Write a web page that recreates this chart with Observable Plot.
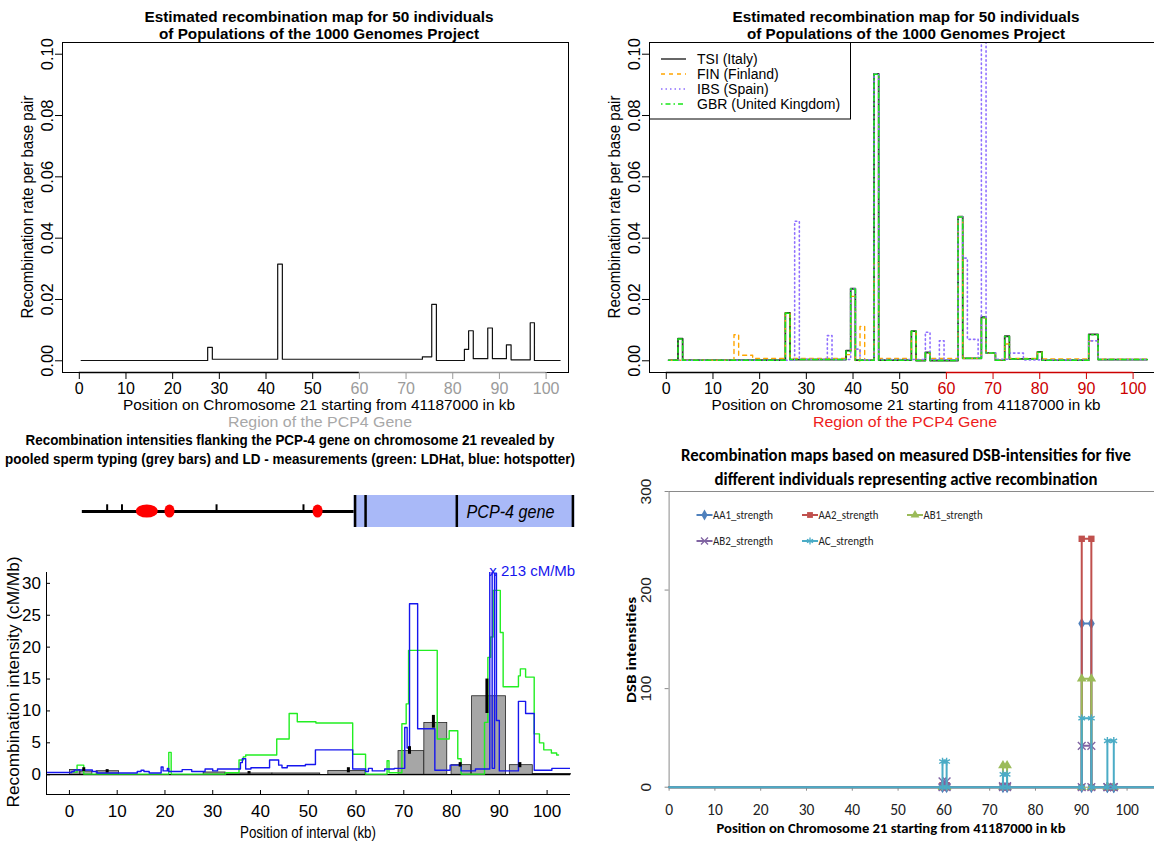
<!DOCTYPE html>
<html>
<head>
<meta charset="utf-8">
<script src="https://cdn.jsdelivr.net/npm/d3@7"></script>
<script src="https://cdn.jsdelivr.net/npm/@observablehq/plot@0.6"></script>
<style>
  html, body { margin: 0; padding: 0; background: #fff; }
  #page { position: relative; width: 1154px; height: 844px; overflow: hidden; background: #fff; }
  #page > svg { position: absolute; overflow: visible; }
</style>
</head>
<body>
<div id="page"></div>
<script>
// ======================= DATA =======================
// shared ticks
const kbTicks = [0, 10, 20, 30, 40, 50, 60, 70, 80, 90, 100];
const rateTicks = [0, 0.02, 0.04, 0.06, 0.08, 0.10];
const intensityTicks = [0, 5, 10, 15, 20, 25, 30];
const dsbTicks = [0, 100, 200, 300];

// Panel A (top left): estimated recombination map (step edges in kb, rate per bp)
const mapEdges = [0.4, 27.5, 28.5, 42.5, 43.5, 73.5, 75.5, 76.5, 82.5, 83.4, 84.4, 87.5, 88.5, 91.5, 92.5, 96.6, 97.5, 103];
const mapRates = [0.0001, 0.0044, 0.0005, 0.0315, 0.0005, 0.0013, 0.0184, 0.0001, 0.0037, 0.0098, 0.0007, 0.0107, 0.0007, 0.0052, 0.0003, 0.0124, 0.0001];

// Panel B (top right): four populations
const popNames = ["TSI (Italy)", "FIN (Finland)", "IBS (Spain)", "GBR (United Kingdom)"];
const tsiEdges = [0.5, 2.5, 3.5, 25.5, 26.5, 38.5, 39.5, 40.5, 44.5, 45.5, 52.5, 53.5, 55.5, 56.5, 62.5, 63.5, 67.5, 68.5, 70.5, 72.5, 73.5, 79.5, 80.5, 90.5, 92.5, 103];
const tsiRates = [0.0002, 0.0072, 0.0002, 0.0156, 0.0004, 0.0033, 0.0235, 0.0002, 0.0936, 0.0002, 0.0097, 0.0001, 0.0027, 0.0001, 0.047, 0.0008, 0.0142, 0.0026, 0.0002, 0.0080, 0.0006, 0.0029, 0.0002, 0.0086, 0.0004];
const finEdges = [0.5, 14.5, 15.5, 18.5, 25.5, 26.5, 38.5, 39.5, 40.5, 41.5, 42.5, 44.5, 45.5, 52.5, 53.5, 55.5, 56.5, 62.5, 63.5, 67.5, 68.5, 70.5, 72.5, 73.5, 79.5, 80.5, 90.5, 92.5, 103];
const finRates = [0.0002, 0.0085, 0.0018, 0.0008, 0.0155, 0.0008, 0.0020, 0.0210, 0.0000, 0.0112, 0.0003, 0.032, 0.0008, 0.0095, 0.0003, 0.0025, 0.0008, 0.047, 0.0008, 0.0140, 0.0025, 0.0003, 0.0055, 0.0008, 0.0028, 0.0006, 0.0065, 0.0005];
const ibsEdges = [0.5, 27.5, 28.5, 34.5, 35.5, 39.5, 40.5, 41.5, 44.5, 45.5, 55.5, 56.5, 58.5, 59.5, 62.5, 63.5, 64.5, 66.8, 67.5, 68.5, 70.5, 73.5, 76.5, 90.5, 92.5, 103];
const ibsRates = [0.0002, 0.0455, 0.0005, 0.0082, 0.0004, 0.0235, 0.0038, 0.0003, 0.0936, 0.0004, 0.0093, 0.0004, 0.0065, 0.0003, 0.047, 0.0335, 0.0070, 0.0010, 0.115, 0.0026, 0.0005, 0.0025, 0.0003, 0.0065, 0.0004];
const gbrEdges = [0.5, 2.5, 3.5, 25.5, 26.5, 38.5, 39.5, 40.5, 44.5, 45.5, 52.5, 53.5, 55.5, 56.5, 62.5, 63.5, 67.5, 68.5, 70.5, 72.5, 73.5, 79.5, 80.5, 90.5, 92.5, 103];
const gbrRates = [0.0002, 0.0071, 0.0002, 0.0155, 0.0004, 0.0032, 0.0234, 0.0002, 0.0935, 0.0002, 0.0096, 0.0001, 0.0026, 0.0001, 0.0469, 0.0008, 0.0141, 0.0025, 0.0002, 0.0079, 0.0006, 0.0028, 0.0002, 0.0085, 0.0004];

// Panel C (bottom left): gene diagram (kb)
const flankStart = 2.7, geneStart = 59.6, geneEnd = 105.8;
const geneLines = [59.8, 62.0, 81.1, 105.4];
const markerTicks = [7.9, 11.0, 30.8, 49.0];
const hotspotStart = [14.0, 20.0, 51.0];
const hotspotEnd = [18.6, 22.1, 53.1];
// sperm typing bars (kb, cM/Mb)
const barStart = [0.1, 2.3, 5.7, 28.1, 32.7, 42.5, 54.2, 68.9, 74.3, 80.0, 84.3, 92.2, 97.0];
const barEnd   = [2.3, 4.8, 10.4, 32.7, 42.5, 52.5, 62.0, 74.3, 79.1, 84.1, 91.4, 97.0, 105.0];
const barValue = [0.75, 0.5, 0.55, 0.35, 0.2, 0.2, 0.6, 3.7, 8.1, 1.5, 12.3, 1.5, 0.1];
const errPos = [3.0, 7.9, 37.6, 58.4, 71.2, 76.2, 81.8, 87.4, 94.3];
const errLow = [0.5, 0.3, 0.1, 0.3, 3.2, 7.3, 1.2, 9.6, 1.1];
const errHigh = [1.1, 0.8, 0.5, 1.1, 4.4, 9.3, 1.9, 15.0, 1.9];
// LDHat (green)
const ldhatEdges = [0.8, 1.6, 3.0, 20.8, 21.3, 32.7, 35.5, 36.4, 36.9, 43.4, 46.0, 47.7, 51.6, 59.3, 62.0, 66.5, 66.9, 69.6, 70.5, 71.0, 77.0, 79.5, 81.3, 82.0, 86.9, 87.6, 88.2, 88.7, 90.2, 90.8, 94.0, 94.4, 95.5, 97.3, 98.4, 99.3, 100.9, 102.0, 102.4];
const ldhatRates = [0.4, 1.5, 0.1, 3.5, 0.1, 0.3, 2.3, 2.8, 3.1, 5.6, 9.6, 8.3, 8.1, 3.2, 0.1, 2.2, 0.3, 8.0, 11.1, 19.5, 5.6, 6.9, 2.5, 0.1, 8.2, 18.4, 21.6, 28.9, 22.3, 13.8, 15.5, 16.6, 15.3, 6.4, 5.0, 3.9, 3.4, 3.1];
// hotspotter (blue)
const hotEdges = [-4.8, 0.5, 1.0, 4.8, 5.8, 14.2, 15.0, 15.6, 16.7, 19.2, 19.6, 20.5, 20.8, 23.6, 25.6, 28.4, 30.0, 31.0, 35.8, 36.2, 36.9, 38.0, 41.9, 43.8, 44.5, 45.6, 49.4, 51.5, 59.3, 62.0, 62.6, 63.4, 66.0, 68.0, 70.2, 70.7, 71.2, 72.9, 76.5, 79.7, 82.0, 85.0, 88.0, 88.5, 89.0, 89.4, 90.0, 94.0, 95.5, 97.3, 101.0, 105.0];
const hotRates = [0.36, 0.5, 0.74, 0.5, 0.27, 0.5, 0.7, 0.5, 0.27, 1.2, 0.6, 1.0, 0.5, 0.8, 0.5, 0.9, 0.6, 0.9, 1.9, 2.5, 0.9, 1.1, 2.3, 1.5, 1.1, 1.4, 1.6, 3.9, 0.9, 0.5, 1.0, 0.6, 0.9, 1.0, 7.4, 4.2, 26.8, 7.2, 0.7, 1.5, 0.6, 0.9, 213, 1.0, 31.6, 8.5, 0.6, 11.5, 9.6, 0.7, 1.0];

// Panel D (bottom right): DSB intensities
const dsbNames = ["AA1_strength", "AA2_strength", "AB1_strength", "AB2_strength", "AC_strength"];
const dsbPos = [0, 59.7, 59.7, 60.6, 60.6, 72.9, 72.9, 73.8, 73.8, 90.1, 90.1, 92.2, 92.2, 95.7, 95.7, 97.1, 97.1, 106.5];
const aa1 = [0, 0, 2, 2, 0, 0, 1, 1, 0, 0, 166, 166, 0, 0, 0, 0, 0, 0];
const aa2 = [0, 0, 2, 2, 0, 0, 1, 1, 0, 0, 252, 252, 0, 0, 0, 0, 0, 0];
const ab1 = [0, 0, 1, 1, 0, 0, 22, 22, 0, 0, 110, 110, 0, 0, 0, 0, 0, 0];
const ab2 = [0, 0, 6, 6, 0, 0, 1, 1, 0, 0, 42, 42, 0, 0, 0, 0, 0, 0];
const ac  = [0, 0, 26, 26, 0, 0, 13, 13, 0, 0, 70, 70, 0, 0, 47, 47, 0, 0];

// ======================= HELPERS =======================
const RFONT = "'Liberation Sans Narrow', 'Arial Narrow', 'Liberation Sans', Arial, sans-serif";
const RFONT_W = "'Liberation Sans', Arial, Helvetica, sans-serif";
const NARROW = "'Liberation Sans Narrow', 'Arial Narrow', 'Liberation Sans', sans-serif";
const CAL = "Carlito, Calibri, Lato, sans-serif";
const page = document.getElementById("page");
function place(svg, left, top) { svg.style.left = left + "px"; svg.style.top = top + "px"; page.appendChild(svg); }
function steps(edges, vals) {
  const pts = vals.map((v, i) => ({x: edges[i], y: v}));
  pts.push({x: edges[edges.length - 1], y: vals[vals.length - 1]});
  return pts;
}

// ======================= PANELS A & B (R style) =======================
function rPanel(o) {
  const {width, height, mL, mR, mT, mB, xDom, yDom, marks, accentLine, accentText} = o;
  const kY = (height - mT - mB) / (yDom[1] - yDom[0]);
  const kX = (width - mL - mR) / (xDom[1] - xDom[0]);
  const yb = yDom[0], xl = xDom[0], tick = 7;
  const lo = kbTicks.filter(t => t < 60), hi = kbTicks.filter(t => t >= 60);
  return Plot.plot({
    width, height, marginLeft: mL, marginRight: mR, marginTop: mT, marginBottom: mB,
    x: {domain: xDom, axis: null}, y: {domain: yDom, axis: null},
    style: {fontFamily: RFONT, background: "transparent", overflow: "visible"},
    marks: [
      ...marks,
      Plot.frame({stroke: "#000", strokeWidth: 1}),
      Plot.ruleY([yb], {x1: 0, x2: 60, stroke: "#000", strokeWidth: 1.6}),
      Plot.ruleY([yb], {x1: 60, x2: 100, stroke: accentLine, strokeWidth: 1.6}),
      Plot.ruleX(lo, {x: d => d, y1: yb, y2: yb - tick / kY, stroke: "#000"}),
      Plot.ruleX(hi, {x: d => d, y1: yb, y2: yb - tick / kY, stroke: accentLine}),
      Plot.text(lo, {x: d => d, y: yb, dy: 16, text: d => String(d), fontSize: 16, fill: "#000"}),
      Plot.text(hi, {x: d => d, y: yb, dy: 16, text: d => String(d), fontSize: 16, fill: accentText}),
      Plot.ruleY(rateTicks, {y: d => d, x1: xl, x2: xl - tick / kX, stroke: "#000"}),
      Plot.text(rateTicks, {x: xl, y: d => d, dx: -15, rotate: -90, text: d => d.toFixed(2), fontSize: 16.5, fill: "#000", fontFamily: RFONT_W})
    ]
  });
}
const stepOpts = {x: "x", y: "y", curve: "step-after"};
place(rPanel({
  width: 580, height: 430, mL: 62, mR: 12, mT: 42, mB: 58,
  xDom: [-3.6, 104.8], yDom: [-0.00382, 0.10382],
  accentLine: "#9b9b9b", accentText: "#9b9b9b",
  marks: [Plot.line(steps(mapEdges, mapRates), {...stepOpts, stroke: "#111", strokeWidth: 1.2})]
}), 0, 0);

const popStyles = [
  {stroke: "#2e2e2e", strokeWidth: 1.8, dash: null},
  {stroke: "#ffa500", strokeWidth: 1.4, dash: "4,4"},
  {stroke: "#8f6fff", strokeWidth: 1.6, dash: "1.5,3"},
  {stroke: "#19e619", strokeWidth: 1.5, dash: "1.5,3,5,3"}
];
const popData = [steps(tsiEdges, tsiRates), steps(finEdges, finRates), steps(ibsEdges, ibsRates), steps(gbrEdges, gbrRates)];
place(rPanel({
  width: 576, height: 430, mL: 69, mR: 1, mT: 42, mB: 58,
  xDom: [-3.6, 104.8], yDom: [-0.00382, 0.10382],
  accentLine: "#cc0000", accentText: "#cc0000",
  marks: popData.map((d, i) => Plot.line(d, {
    ...stepOpts, stroke: popStyles[i].stroke, strokeWidth: popStyles[i].strokeWidth,
    strokeDasharray: popStyles[i].dash || undefined, clip: true
  }))
}), 580, 0);

// ======================= PANEL C =======================
const xD3 = [-4.8, 104.9], yD3 = [-3.1, 31.7];
const k3x = (580 - 46 - 10) / (xD3[1] - xD3[0]);
const k3y = (304 - 32 - 50) / (yD3[1] - yD3[0]);

// gene diagram track
const hotspots = hotspotStart.map((a, i) => ({a, b: hotspotEnd[i]}));
place(Plot.plot({
  width: 580, height: 32, marginLeft: 46, marginRight: 10, marginTop: 0, marginBottom: 0,
  x: {domain: xD3, axis: null}, y: {domain: [-1, 1], axis: null},
  style: {background: "transparent", overflow: "visible"},
  marks: [
    Plot.rect([0], {x1: geneStart, x2: geneEnd, y1: -1, y2: 1, fill: "#a9b9f8"}),
    Plot.ruleX(geneLines, {x: d => d, y1: -1, y2: 1, stroke: "#000", strokeWidth: 2.5}),
    Plot.ruleY([0], {x1: flankStart, x2: geneStart, stroke: "#000", strokeWidth: 3}),
    Plot.ruleX(markerTicks, {x: d => d, y1: 0, y2: 0.42, stroke: "#000", strokeWidth: 2}),
    Plot.rect(hotspots, {x1: "a", x2: "b", y1: -0.41, y2: 0.41, rx: 100, ry: 100, fill: "#ff0000"})
  ]
}), 0, 495);

const bars = barStart.map((a, i) => ({a, b: barEnd[i], v: barValue[i]}));
const errs = errPos.map((x, i) => ({x, lo: errLow[i], hi: errHigh[i]}));
const peak = d3.max(hotRates);
place(Plot.plot({
  width: 580, height: 304, marginLeft: 46, marginRight: 10, marginTop: 32, marginBottom: 50,
  x: {domain: xD3, axis: null}, y: {domain: yD3, axis: null},
  style: {fontFamily: NARROW, background: "transparent", overflow: "visible"},
  marks: [
    Plot.rect(bars, {x1: "a", x2: "b", y1: 0, y2: "v", fill: "#a6a6a6", stroke: "#222", strokeWidth: 0.8}),
    Plot.ruleY([0], {x1: xD3[0], x2: xD3[1], stroke: "#000", strokeWidth: 1.2}),
    Plot.line(steps(ldhatEdges, ldhatRates), {...stepOpts, stroke: "#22ee22", strokeWidth: 1.4}),
    Plot.line(steps(hotEdges, hotRates), {...stepOpts, stroke: "#1616ee", strokeWidth: 1.4, clip: true}),
    Plot.ruleX(errs, {x: "x", y1: "lo", y2: "hi", stroke: "#000", strokeWidth: 3}),
    Plot.ruleX([xD3[0]], {y1: yD3[0], y2: yD3[1], stroke: "#000"}),
    Plot.ruleY([yD3[0]], {x1: xD3[0], x2: xD3[1], stroke: "#000"}),
    Plot.ruleY(intensityTicks, {y: d => d, x1: xD3[0], x2: xD3[0] + 4 / k3x, stroke: "#000"}),
    Plot.ruleX(kbTicks, {x: d => d, y1: yD3[0], y2: yD3[0] + 4 / k3y, stroke: "#000"}),
    Plot.text(intensityTicks, {x: xD3[0], y: d => d, dx: -5.5, textAnchor: "end", text: d => String(d), fontSize: 17, fill: "#000"}),
    Plot.text(kbTicks, {x: d => d, y: yD3[0], dy: 17, text: d => String(d), fontSize: 17, fill: "#000"}),
    Plot.text([peak], {x: 87.9, y: 31.9, text: d => `x ${d} cM/Mb`, textAnchor: "start", fill: "#1616ee", fontSize: 15})
  ]
}), 0, 540);

// ======================= PANEL D (Excel style) =======================
const xD4 = [0, 107.3], yD4 = [0, 300];
const k4x = (580 - 88.6) / (xD4[1] - xD4[0]);
const k4y = (359 - 6 - 57.3) / (yD4[1] - yD4[0]);
const dsbVals = [aa1, aa2, ab1, ab2, ac];
const dsbColors = ["#4f81bd", "#c0504d", "#9bbb59", "#8064a2", "#4bacc6"];
const dsbSymbols = ["diamond", "square", "triangle", "times", "asterisk"];
const dsbFilled = [true, true, true, false, false];
const seriesMarks = [];
dsbVals.forEach((vals, s) => {
  const pts = dsbPos.map((x, i) => ({x, y: vals[i]}));
  seriesMarks.push(Plot.line(pts, {x: "x", y: "y", stroke: dsbColors[s], strokeWidth: 2}));
  seriesMarks.push(Plot.dot(pts.slice(1, -1), {
    x: "x", y: "y", symbol: dsbSymbols[s], r: 3.6,
    fill: dsbFilled[s] ? dsbColors[s] : "none", stroke: dsbFilled[s] ? "none" : dsbColors[s], strokeWidth: 1.4
  }));
});
place(Plot.plot({
  width: 580, height: 359, marginLeft: 88.6, marginRight: 0, marginTop: 6, marginBottom: 57.3,
  x: {domain: xD4, axis: null}, y: {domain: yD4, axis: null},
  style: {fontFamily: CAL, background: "transparent", overflow: "visible"},
  marks: [
    Plot.ruleY([yD4[1]], {x1: 0, x2: xD4[1], stroke: "#8a8a8a"}),
    Plot.ruleX([0], {y1: 0, y2: yD4[1], stroke: "#8a8a8a"}),
    Plot.ruleY(dsbTicks, {y: d => d, x1: 0, x2: -4 / k4x, stroke: "#8a8a8a"}),
    Plot.ruleX(kbTicks, {x: d => d, y1: 0, y2: -4 / k4y, stroke: "#8a8a8a"}),
    Plot.ruleY([0], {x1: 0, x2: xD4[1], stroke: "#8a8a8a"}),
    ...seriesMarks,
    Plot.text(dsbTicks, {x: 0, y: d => d, dx: -22.6, rotate: -90, text: d => String(d), fontSize: 15.5, fill: "#222", fontFamily: RFONT_W}),
    Plot.text(kbTicks, {x: d => d, y: 0, dy: 23, text: d => String(d), fontSize: 15.5, fill: "#222"})
  ]
}), 580, 485);

// ======================= TITLES, LABELS, LEGENDS =======================
const ov = d3.select(page).append("svg")
  .attr("width", 1154).attr("height", 844)
  .style("left", "0px").style("top", "0px").style("pointer-events", "none");

const labels = [
  {t: "Estimated recombination map for 50 individuals", x: 319, y: 16, s: 15, w: "bold", len: 349, f: RFONT_W},
  {t: "of Populations of the 1000 Genomes Project", x: 319, y: 33.5, s: 15, w: "bold", len: 320, f: RFONT_W},
  {t: "Recombination rate per base pair", x: 27, y: 207, s: 16.5, rot: -90, len: 223, f: RFONT_W},
  {t: "Position on Chromosome 21 starting from 41187000 in kb", x: 319, y: 404, s: 15, len: 392, f: RFONT_W},
  {t: "Region of the PCP4 Gene", x: 320, y: 421.5, s: 15, len: 184, f: RFONT_W, fill: "#a8a8a8"},
  {t: "Estimated recombination map for 50 individuals", x: 906, y: 16, s: 15, w: "bold", len: 347, f: RFONT_W},
  {t: "of Populations of the 1000 Genomes Project", x: 906, y: 33.5, s: 15, w: "bold", len: 318, f: RFONT_W},
  {t: "Recombination rate per base pair", x: 614, y: 207, s: 16.5, rot: -90, len: 223, f: RFONT_W},
  {t: "Position on Chromosome 21 starting from 41187000 in kb", x: 906, y: 404, s: 15, len: 389, f: RFONT_W},
  {t: "Region of the PCP4 Gene", x: 905, y: 421.5, s: 15, len: 184, f: RFONT_W, fill: "#ee1c1c"},
  {t: "Recombination intensities flanking the PCP-4 gene on chromosome 21 revealed by", x: 290, y: 439, s: 15.5, w: "bold", len: 529, f: NARROW},
  {t: "pooled sperm typing (grey bars) and LD - measurements (green: LDHat, blue: hotspotter)", x: 290, y: 458, s: 15.5, w: "bold", len: 570, f: NARROW},
  {t: "PCP-4 gene", x: 466.5, y: 512, s: 18, it: true, anchor: "start", len: 88, f: RFONT_W},
  {t: "Recombination intensity (cM/Mb)", x: 13, y: 682, s: 17, rot: -90, len: 251, f: NARROW},
  {t: "Position of interval (kb)", x: 308, y: 832, s: 16.5, len: 136, f: NARROW},
  {t: "Recombination maps based on measured DSB-intensities for five", x: 906, y: 455, s: 17, w: "bold", len: 450, f: CAL},
  {t: "different individuals representing active recombination", x: 906, y: 479, s: 17, w: "bold", len: 383, f: CAL},
  {t: "DSB intensities", x: 630.5, y: 650, s: 14.5, w: "bold", rot: -90, len: 106, f: CAL},
  {t: "Position on Chromosome 21 starting from 41187000  in kb", x: 891, y: 828, s: 14.5, w: "bold", len: 349, f: CAL}
];
for (const L of labels) {
  const t = ov.append("text")
    .attr("x", L.x).attr("y", L.y)
    .attr("text-anchor", L.anchor || "middle").attr("dominant-baseline", "central")
    .style("font-family", L.f).style("font-size", L.s + "px")
    .style("font-weight", L.w || "normal").style("font-style", L.it ? "italic" : "normal")
    .attr("fill", L.fill || "#000").text(L.t);
  if (L.len) t.attr("textLength", L.len).attr("lengthAdjust", "spacingAndGlyphs");
  if (L.rot) t.attr("transform", `rotate(${L.rot},${L.x},${L.y})`);
}

// legend for panel B
const lgB = ov.append("g");
lgB.append("rect").attr("x", 649.5).attr("y", 42.5).attr("width", 201).attr("height", 76.5)
  .attr("fill", "#fff").attr("stroke", "#000");
popNames.forEach((name, i) => {
  const y = 59 + i * 15;
  const st = popStyles[i];
  lgB.append("line").attr("x1", 661).attr("x2", 686).attr("y1", y).attr("y2", y)
    .attr("stroke", i === 0 ? "#555" : st.stroke).attr("stroke-width", st.strokeWidth)
    .attr("stroke-dasharray", st.dash || null);
  lgB.append("text").attr("x", 697).attr("y", y).attr("dominant-baseline", "central")
    .style("font-family", RFONT_W).style("font-size", "14px").attr("fill", "#000").text(name);
});

// legend for panel D
const symFns = [d3.symbolDiamond, d3.symbolSquare, d3.symbolTriangle, d3.symbolTimes, d3.symbolAsterisk];
const lgCols = [696.5, 802, 907], lgRows = [515, 541];
const lgLens = [60, 60, 59, 60, 55];
dsbNames.forEach((name, s) => {
  const cx = lgCols[s % 3], cy = lgRows[Math.floor(s / 3)];
  const g = ov.append("g");
  g.append("line").attr("x1", cx).attr("x2", cx + 16).attr("y1", cy).attr("y2", cy)
    .attr("stroke", dsbColors[s]).attr("stroke-width", 2);
  g.append("path").attr("d", d3.symbol(symFns[s], 34)())
    .attr("transform", `translate(${cx + 8},${cy})`)
    .attr("fill", dsbFilled[s] ? dsbColors[s] : "none")
    .attr("stroke", dsbFilled[s] ? "none" : dsbColors[s]).attr("stroke-width", 1.3);
  g.append("text").attr("x", cx + 16.5).attr("y", cy).attr("dominant-baseline", "central")
    .style("font-family", CAL).style("font-size", "12px").attr("fill", "#222")
    .attr("textLength", lgLens[s]).attr("lengthAdjust", "spacingAndGlyphs").text(name);
});
</script>
</body>
</html>
